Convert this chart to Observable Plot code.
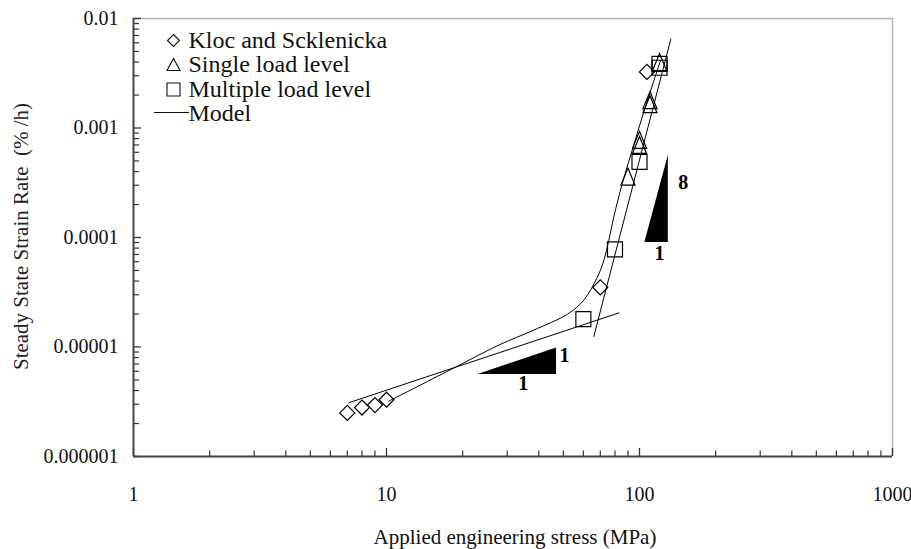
<!DOCTYPE html>
<html>
<head>
<meta charset="utf-8">
<script src="https://cdn.jsdelivr.net/npm/d3@7"></script>
<script src="https://cdn.jsdelivr.net/npm/@observablehq/plot@0.6"></script>
<style>
  html, body { margin: 0; padding: 0; background: #fff; }
  #chart { width: 911px; height: 549px; }
</style>
</head>
<body>
<div id="chart"></div>
<script>
// ---- Data ----
const klocStress   = [7, 8, 9, 10, 70, 107];
const klocRate     = [2.5e-6, 2.8e-6, 2.95e-6, 3.3e-6, 3.5e-5, 3.25e-3];

const singleStress = [90, 100, 100, 110, 110, 120];
const singleRate   = [3.6e-4, 7.0e-4, 7.8e-4, 1.65e-3, 1.8e-3, 4.0e-3];

const multiStress  = [60, 80, 100, 120, 120];
const multiRate    = [1.8e-5, 7.8e-5, 4.9e-4, 3.55e-3, 3.85e-3];

const modelStress  = [10.2, 17.9, 28, 38, 52, 60, 68, 72.3, 75.6, 79.1, 85.4, 93.5, 102.5, 114, 121];
const modelRate    = [3.2e-6, 6.2e-6, 1.05e-5, 1.42e-5, 2.0e-5, 2.65e-5, 4.3e-5, 6.17e-5, 9.4e-5, 1.53e-4, 3.09e-4, 6.23e-4, 1.26e-3, 2.71e-3, 4.1e-3];

const lowFitStress  = [7.1, 83];
const lowFitRate    = [3.1e-6, 2.05e-5];
const highFitStress = [66, 133];
const highFitRate   = [1.25e-5, 6.5e-3];

// slope triangles (annotation)
const slope1Stress = [23, 47];
const slope1Base   = [5.6e-6, 5.6e-6];
const slope1Top    = [5.6e-6, 9.8e-6];
const slope8Stress = [105, 130];
const slope8Base   = [9e-5, 9e-5];
const slope8Top    = [9e-5, 5.6e-4];
const slopeLabelText   = ["1", "1", "8", "1"];
const slopeLabelStress = [50.5, 34.7, 149, 120];
const slopeLabelRate   = [8.4e-6, 4.6e-6, 3.16e-4, 7.1e-5];

const xTickValues = [1, 10, 100, 1000];
const xTickLabels = ["1", "10", "100", "1000"];
const yTickValues = [1e-6, 1e-5, 1e-4, 1e-3, 1e-2];
const yTickLabels = ["0.000001", "0.00001", "0.0001", "0.001", "0.01"];

const legendLabels = ["Kloc and Scklenicka", "Single load level", "Multiple load level", "Model"];
const xTitle = "Applied engineering stress (MPa)";
const yTitle = "Steady State Strain Rate  (% /h)";

// ---- helpers ----
const zip = (xs, ys) => xs.map((x, i) => ({x, y: ys[i]}));
const minorTicks = (majors) => {
  const out = [];
  for (let i = 0; i < majors.length - 1; i++) for (let k = 2; k <= 9; k++) out.push(majors[i] * k);
  return out;
};

const diamondSym = (h) => ({draw(c) { c.moveTo(0, -h); c.lineTo(h, 0); c.lineTo(0, h); c.lineTo(-h, 0); c.closePath(); }});
const squareSym  = (s) => ({draw(c) { c.rect(-s / 2, -s / 2, s, s); }});
const triSym     = (w, h) => ({draw(c) { c.moveTo(0, -h / 2); c.lineTo(w / 2, h / 2); c.lineTo(-w / 2, h / 2); c.closePath(); }});
const lineSym    = (w) => ({draw(c) { c.moveTo(-w / 2, 0); c.lineTo(w / 2, 0); }});

const W = 911, H = 549, ML = 133, MR = 19, MT = 18, MB = 93;
const plotW = W - ML - MR, plotH = H - MT - MB;
const font = "'Liberation Serif', 'Times New Roman', serif";

const legendSymbols = [diamondSym(6), triSym(13, 12), squareSym(13), lineSym(35)];
const legendRowsDy = [22, 46, 71, 95];

const legendMarks = legendLabels.flatMap((lab, i) => [
  Plot.dot([lab], {frameAnchor: "top-left", dx: i === 3 ? 38 : 40, dy: legendRowsDy[i] + (i === 3 ? -1 : 0),
    symbol: legendSymbols[i], fill: "none", stroke: "#111", strokeWidth: 1.1}),
  Plot.text([lab], {frameAnchor: "top-left", dx: 55, dy: legendRowsDy[i], textAnchor: "start",
    lineAnchor: "middle", fontSize: 24, fontFamily: font, fill: "#111"})
]);

const chart = Plot.plot({
  width: W, height: H,
  marginLeft: ML, marginRight: MR, marginTop: MT, marginBottom: MB,
  style: {fontFamily: font, fontSize: "20px", color: "#111", background: "#fff", overflow: "visible"},
  x: {type: "log", domain: [1, 1000]},
  y: {type: "log", domain: [1e-6, 1e-2]},
  marks: [
    // frame
    Plot.ruleX([1000], {stroke: "#b3b3b3", strokeWidth: 1.5}),
    Plot.ruleY([1e-2], {stroke: "#b3b3b3", strokeWidth: 1.5}),
    // inward ticks
    Plot.ruleX(xTickValues, {x: d => d, insetTop: plotH - 8, stroke: "#333", strokeWidth: 1.3}),
    Plot.ruleX(minorTicks(xTickValues), {x: d => d, insetTop: plotH - 5.5, stroke: "#333", strokeWidth: 1.2}),
    Plot.ruleY(yTickValues, {y: d => d, insetRight: plotW - 8, stroke: "#333", strokeWidth: 1.3}),
    Plot.ruleY(minorTicks(yTickValues), {y: d => d, insetRight: plotW - 6, stroke: "#333", strokeWidth: 1.2}),
    // axis lines
    Plot.ruleX([1], {stroke: "#444", strokeWidth: 2}),
    Plot.ruleY([1e-6], {stroke: "#444", strokeWidth: 2}),
    // tick labels
    Plot.axisX({ticks: xTickValues, tickFormat: d => xTickLabels[xTickValues.indexOf(d)], tickSize: 0,
      tickPadding: 30, label: null, fontSize: 20, fontFamily: font, fill: "#111"}),
    Plot.axisY({ticks: yTickValues, tickFormat: d => yTickLabels[yTickValues.indexOf(d)], tickSize: 0,
      tickPadding: 15, label: null, fontSize: 20, fontFamily: font, fill: "#111"}),
    // titles
    Plot.text([xTitle], {frameAnchor: "bottom", dx: 2, dy: 81, lineAnchor: "middle", fontSize: 21, fontFamily: font, fill: "#111"}),
    Plot.text([yTitle], {frameAnchor: "left", dx: -(ML - 21), dy: -1, rotate: -90, textAnchor: "middle",
      lineAnchor: "middle", fontSize: 21, fontFamily: font, fill: "#222"}),
    // slope triangles
    Plot.areaY(slope1Stress.map((x, i) => ({x, y1: slope1Base[i], y2: slope1Top[i]})), {x: "x", y1: "y1", y2: "y2", fill: "#000"}),
    Plot.areaY(slope8Stress.map((x, i) => ({x, y1: slope8Base[i], y2: slope8Top[i]})), {x: "x", y1: "y1", y2: "y2", fill: "#000"}),
    Plot.text(slopeLabelText.map((t, i) => ({t, x: slopeLabelStress[i], y: slopeLabelRate[i]})),
      {x: "x", y: "y", text: "t", fontWeight: "bold", fontSize: 20, fontFamily: font, fill: "#000"}),
    // lines
    Plot.line(zip(lowFitStress, lowFitRate), {x: "x", y: "y", stroke: "#000", strokeWidth: 1}),
    Plot.line(zip(highFitStress, highFitRate), {x: "x", y: "y", stroke: "#000", strokeWidth: 1}),
    Plot.line(zip(modelStress, modelRate), {x: "x", y: "y", stroke: "#000", strokeWidth: 1, curve: "catmull-rom"}),
    // data points
    Plot.dot(zip(klocStress, klocRate), {x: "x", y: "y", symbol: diamondSym(7.5), fill: "none", stroke: "#000", strokeWidth: 1.2}),
    Plot.dot(zip(singleStress, singleRate), {x: "x", y: "y", symbol: triSym(14, 17), fill: "none", stroke: "#000", strokeWidth: 1.2}),
    Plot.dot(zip(multiStress, multiRate), {x: "x", y: "y", symbol: squareSym(15), fill: "none", stroke: "#000", strokeWidth: 1.2}),
    // legend
    ...legendMarks
  ]
});
document.getElementById("chart").appendChild(chart);
</script>
</body>
</html>
